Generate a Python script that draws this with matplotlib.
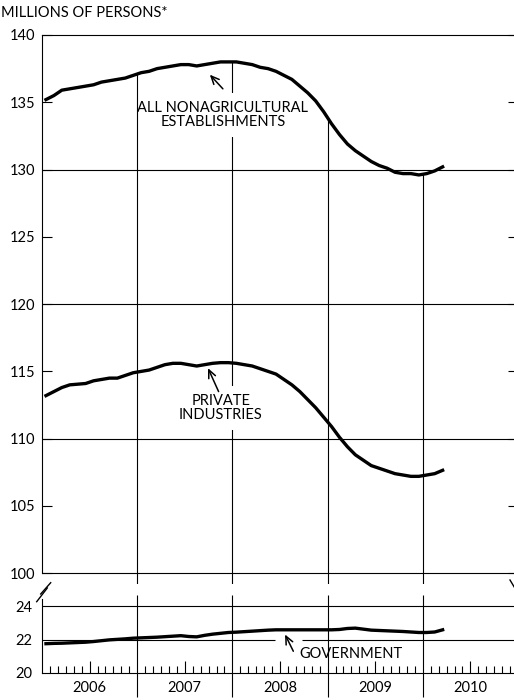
import numpy as np
import matplotlib
matplotlib.use("Agg")
import matplotlib.pyplot as plt
from matplotlib.lines import Line2D

plt.rcParams["font.family"] = ["Lato", "DejaVu Sans"]
plt.rcParams["font.size"] = 10.5

# monthly payroll employment, millions, Jan 2006 .. Mar 2010
years = [2006, 2007, 2008, 2009, 2010]
year_labels = ["2006", "2007", "2008", "2009", "2010"]

total_nonag = [
    135.2, 135.5, 135.9, 136.0, 136.1, 136.2, 136.3, 136.5, 136.6, 136.7, 136.8, 137.0,
    137.2, 137.3, 137.5, 137.6, 137.7, 137.8, 137.8, 137.7, 137.8, 137.9, 138.0, 138.0,
    138.0, 137.9, 137.8, 137.6, 137.5, 137.3, 137.0, 136.7, 136.2, 135.7, 135.1, 134.3,
    133.4, 132.6, 131.9, 131.4, 131.0, 130.6, 130.3, 130.1, 129.8, 129.7, 129.7, 129.6,
    129.7, 129.9, 130.2,
]
private = [
    113.2, 113.5, 113.8, 114.0, 114.05, 114.1, 114.3, 114.4, 114.5, 114.5, 114.7, 114.9,
    115.0, 115.1, 115.3, 115.5, 115.6, 115.6, 115.5, 115.4, 115.5, 115.6, 115.65, 115.65,
    115.6, 115.5, 115.4, 115.2, 115.0, 114.8, 114.4, 114.0, 113.5, 112.9, 112.3, 111.6,
    110.9, 110.1, 109.4, 108.8, 108.4, 108.0, 107.8, 107.6, 107.4, 107.3, 107.2, 107.2,
    107.3, 107.4, 107.65,
]
government = [
    21.75, 21.77, 21.78, 21.80, 21.82, 21.84, 21.88, 21.93, 21.98, 22.01, 22.04, 22.08,
    22.10, 22.12, 22.14, 22.17, 22.20, 22.23, 22.18, 22.16, 22.25, 22.32, 22.37, 22.42,
    22.44, 22.47, 22.50, 22.53, 22.56, 22.58, 22.58, 22.58, 22.58, 22.58, 22.58, 22.58,
    22.58, 22.60, 22.66, 22.68, 22.62, 22.56, 22.54, 22.52, 22.50, 22.48, 22.45, 22.42,
    22.42, 22.45, 22.58,
]

months = 2006 + (np.arange(len(total_nonag)) + 0.5) / 12
total_nonag = np.array(total_nonag)
government = np.array(government)
boundaries = years[1:]

W, H = 514, 700
fig = plt.figure(figsize=(W / 100, H / 100), dpi=100)
ax = fig.add_axes([42 / W, 1 - 584 / H, 476 / W, 549 / H])
axg = fig.add_axes([42 / W, 27 / H, 476 / W, 78 / H])

lw_grid = 0.8
lw_data = 2.4

# ---- upper panel: total and private
ax.plot(months, total_nonag, color="k", lw=lw_data, zorder=5)
ax.plot(months, private, color="k", lw=lw_data, zorder=5)
ax.set_xlim(2006, 2011)
ax.set_ylim(99.2, 140)
for v in [100, 110, 120, 130]:
    ax.axhline(v, color="k", lw=lw_grid, zorder=1)
for b in boundaries:
    i = (b - 2006) * 12
    top = (total_nonag[i - 1] + total_nonag[i]) / 2
    ax.vlines(b, 99.2, top, color="k", lw=lw_grid, zorder=4 if b == 2007 else 1.5)

for s in ["right", "bottom"]:
    ax.spines[s].set_visible(False)
ax.spines["top"].set_linewidth(lw_grid)
ax.spines["left"].set_linewidth(lw_grid)
ax.spines["left"].set_bounds(100, 140)
ax.set_xticks([])
ax.set_yticks(range(100, 141, 5))
ax.tick_params(axis="y", direction="in", length=7, width=lw_grid, pad=5, right=True)

box = dict(fc="white", ec="none", boxstyle="square,pad=0.55")
arrow = dict(arrowstyle="->,head_length=0.55,head_width=0.25", color="k", lw=1.1,
             shrinkA=0, shrinkB=0)
ax.text(2007.90, 134.05, "ALL NONAGRICULTURAL\nESTABLISHMENTS", ha="center", va="center",
        linespacing=1.05, zorder=3, bbox=box)
ax.annotate("", xy=(2007.763, 137.05), xytext=(2007.90, 136.0), arrowprops=arrow, zorder=6)
ax.text(2007.88, 112.27, "PRIVATE\nINDUSTRIES", ha="center", va="center",
        linespacing=1.05, zorder=3, bbox=box)
ax.annotate("", xy=(2007.744, 115.24), xytext=(2007.855, 113.5), arrowprops=arrow, zorder=6)

# ---- lower panel: government
axg.plot(months, government, color="k", lw=lw_data, zorder=5)
axg.set_xlim(2006, 2011)
axg.set_ylim(20, 24.66)
axg.axhline(24, color="k", lw=lw_grid, zorder=1)
axg.hlines(22, 2006, 2008.445, color="k", lw=lw_grid, zorder=1)
axg.hlines(22, 2008.728, 2011, color="k", lw=lw_grid, zorder=1)
axg.vlines(boundaries, 20, 24.66, color="k", lw=lw_grid, zorder=1.5)
for s in ["right", "top"]:
    axg.spines[s].set_visible(False)
axg.spines["left"].set_bounds(20, 24.4)
axg.spines["left"].set_linewidth(lw_grid)
axg.spines["bottom"].set_linewidth(lw_grid)
axg.set_yticks([20, 22, 24])
axg.tick_params(axis="y", length=0, pad=7)

axg.set_xticks(boundaries, labels=[""] * len(boundaries))
minor = [y + m / 12 for y in years for m in range(1, 12) if m != 6]
axg.set_xticks(minor, minor=True)
axg.tick_params(axis="x", which="major", direction="out", length=17, width=lw_grid)
axg.tick_params(axis="x", which="minor", direction="in", length=5, width=lw_grid)

sec = axg.secondary_xaxis("bottom")
sec.set_xticks([y + 0.5 for y in years], labels=year_labels)
sec.tick_params(direction="in", length=8.5, width=lw_grid, pad=6)
sec.spines["bottom"].set_visible(False)

axg.text(2009.245, 21.16, "GOVERNMENT", ha="center", va="center")
axg.annotate("", xy=(2008.553, 22.3), xytext=(2008.64, 21.3), arrowprops=arrow, zorder=6)

# ---- axis break marks and header
for (x0, y0), (x1, y1) in [((40.7, 594), (50.7, 582.7)), ((36.7, 601.7), (47.3, 588)),
                           ((510, 580), (516, 590))]:
    fig.add_artist(Line2D([x0 / W, x1 / W], [1 - y0 / H, 1 - y1 / H], color="k", lw=1))

fig.text(1 / W, 1 - 13 / H, "MILLIONS OF PERSONS*", ha="left", va="center")

fig.savefig("out.png", dpi=100)
